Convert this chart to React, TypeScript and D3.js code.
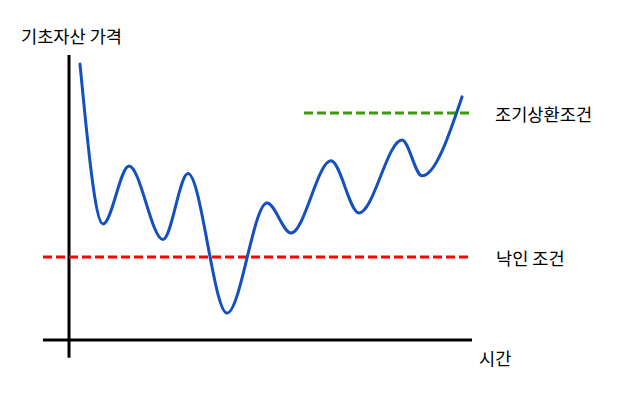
import React from 'react';
import { scaleLinear, line, curveMonotoneX } from 'd3';

const dim = { width: 620, height: 403 };

// time (0-100) and price (0-100) of the turning points of the curve
const times = [2.75, 8.5, 15, 23.5, 29.75, 39.5, 49.5, 55.5, 65.5, 72.5, 83.25, 88.25, 98.25];
const prices = [97.5, 41, 61.5, 35.5, 58.8, 9.5, 48.4, 37.8, 63.3, 44.9, 70.7, 58, 85.9];

const knockIn = 29.3;
const earlyRedemption = 80.2;
const earlyStart = 58.75;

const labels = {
  yTitle: '기초자산 가격',
  xTitle: '시간',
  knockIn: '낙인 조건',
  early: '조기상환조건',
};

const font = '"Noto Sans CJK KR", "Noto Sans", sans-serif';
const fs = 17.6;

const App = () => {
  const x = scaleLinear().domain([0, 100]).range([69, 469]);
  const y = scaleLinear().domain([0, 100]).range([340, 57]);

  const points = times.map((t, i) => [t, prices[i]] as [number, number]);
  const path = line<[number, number]>()
    .x((d) => x(d[0]))
    .y((d) => y(d[1]))
    .curve(curveMonotoneX)(points);

  return (
    <svg
      width={dim.width}
      height={dim.height}
      style={{ position: 'absolute', left: 0, top: 0, background: '#fff' }}
      fontFamily={font}
    >
      {/* axes */}
      <line x1={x(0)} x2={x(0)} y1={y(100.7)} y2={y(-6.3)} stroke="#000" strokeWidth={3} />
      <line x1={x(-6.5)} x2={x(100.75)} y1={y(0)} y2={y(0)} stroke="#000" strokeWidth={3} />

      {/* condition lines */}
      <line
        x1={x(-6.5)}
        x2={x(100.75)}
        y1={y(knockIn)}
        y2={y(knockIn)}
        stroke="#ff0000"
        strokeWidth={3}
        strokeDasharray="9,4"
      />
      <line
        x1={x(earlyStart)}
        x2={x(100.75)}
        y1={y(earlyRedemption)}
        y2={y(earlyRedemption)}
        stroke="#3d9a0f"
        strokeWidth={3}
        strokeDasharray="9,4"
      />

      <path d={path ?? ''} fill="none" stroke="#1450be" strokeWidth={3} strokeLinecap="round" />

      <text x={21} y={35} fontSize={fs} dominantBaseline="central" fill="#000">
        {labels.yTitle}
      </text>
      <text x={479} y={357} fontSize={fs} dominantBaseline="central" fill="#000">
        {labels.xTitle}
      </text>
      <text x={496} y={y(knockIn)} fontSize={fs} dominantBaseline="central" fill="#000">
        {labels.knockIn}
      </text>
      <text x={495} y={y(earlyRedemption)} fontSize={fs} dominantBaseline="central" fill="#000">
        {labels.early}
      </text>
    </svg>
  );
};

export default App;
